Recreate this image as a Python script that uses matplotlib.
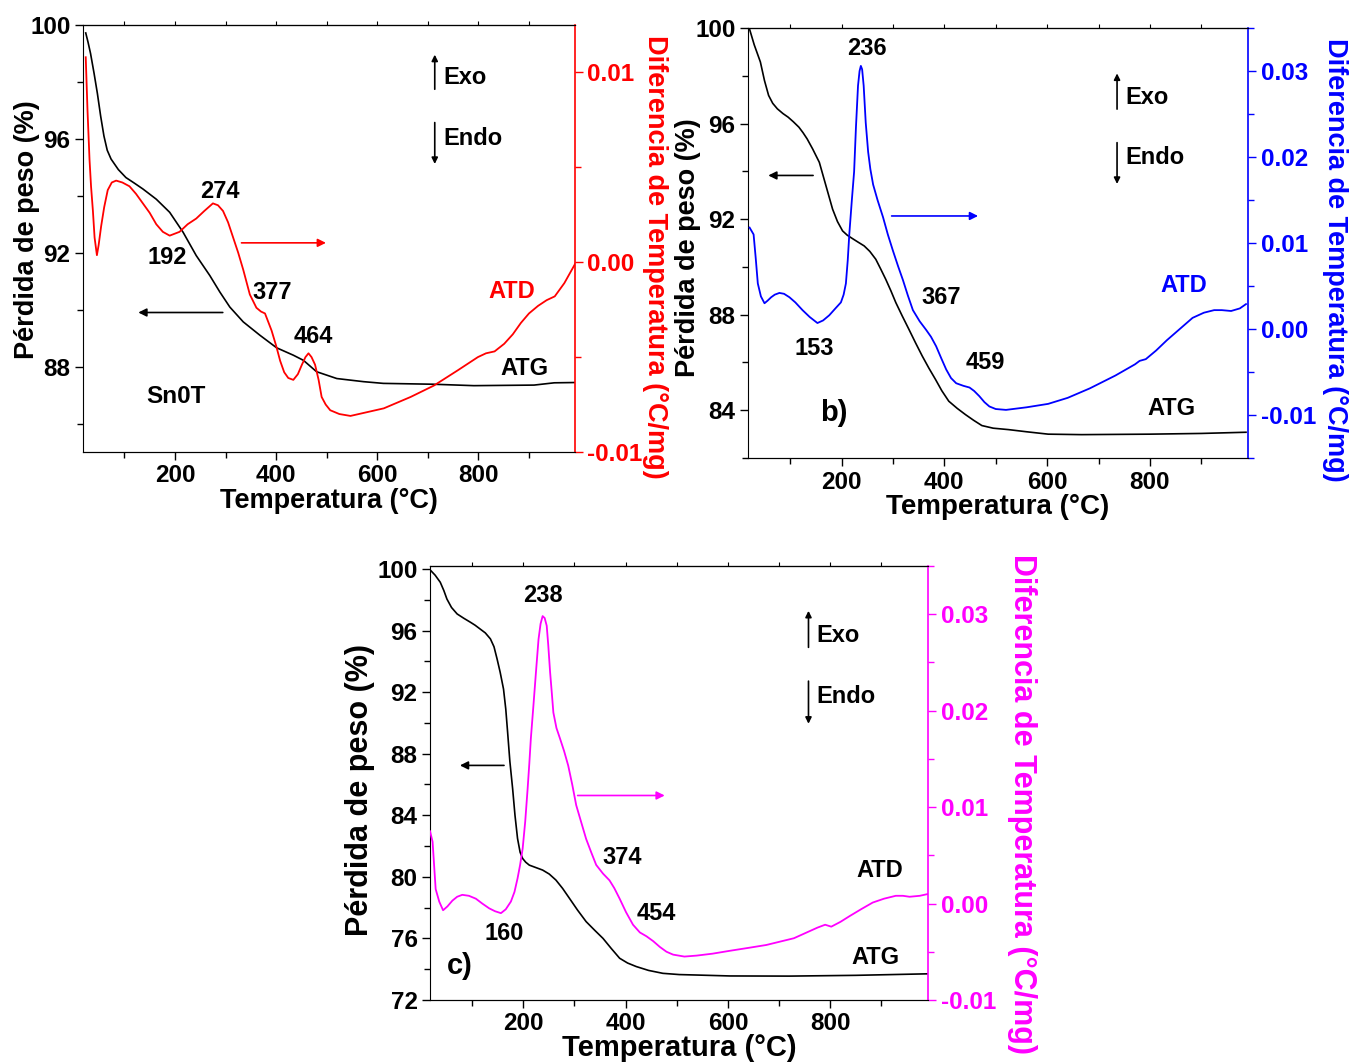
import matplotlib
matplotlib.use('Agg')
import matplotlib.pyplot as plt
from matplotlib.ticker import MultipleLocator

plt.rcParams['font.family'] = ['Liberation Sans', 'DejaVu Sans']
plt.rcParams['font.weight'] = 'bold'

### Panel a (Sn0T)
a_atg_t = [23.5, 28, 33, 40, 46.5, 53, 59.5, 66, 73.6, 88, 103, 120, 136.5, 163, 189.5, 216, 242,
           268.8, 288.7, 308.5, 335, 368, 401, 434, 454, 480, 520, 573, 612, 711, 791, 910, 950, 990]
a_atg_w = [99.72, 99.4, 99.0, 98.3, 97.6, 96.8, 96.1, 95.6, 95.29, 94.92, 94.64, 94.44, 94.24,
           93.88, 93.42, 92.72, 91.9, 91.2, 90.62, 90.09, 89.57, 89.1, 88.66, 88.4, 88.22, 87.82,
           87.58, 87.47, 87.41, 87.38, 87.33, 87.35, 87.43, 87.44]
a_atd_t = [23.5, 27, 31, 34, 37.7, 41, 45.6, 49, 54, 60, 67, 75, 83.6, 96, 110, 123, 136.5, 150,
           163, 176, 189.5, 209, 225, 242, 258, 275, 285, 295, 305, 315, 325, 335, 348, 361, 370,
           378, 391, 400, 408, 416, 424, 434, 443, 451, 458, 464, 470, 477, 484, 490, 498, 507,
           525, 547, 580, 613, 666, 712, 759, 799, 815, 832, 851, 868, 884, 900, 918, 935, 951,
           970, 991]
a_atd_v = [0.0108, 0.0080, 0.0054, 0.0040, 0.0027, 0.0013, 0.00037, 0.0009, 0.0019, 0.0029,
           0.0038, 0.0042, 0.0043, 0.0042, 0.0040, 0.0036, 0.0031, 0.0026, 0.0020, 0.0016,
           0.0014, 0.0016, 0.0020, 0.0023, 0.0027, 0.0031, 0.0030, 0.0027, 0.0021, 0.0013,
           0.0005, -0.0004, -0.0017, -0.0024, -0.0026, -0.0027, -0.0036, -0.0044, -0.0052,
           -0.0058, -0.0061, -0.0062, -0.0059, -0.0054, -0.0050, -0.0048, -0.0050, -0.0054,
           -0.0062, -0.0071, -0.0075, -0.0078, -0.0080, -0.0081, -0.0079, -0.0077, -0.0071,
           -0.0065, -0.0057, -0.0050, -0.0048, -0.0047, -0.0043, -0.0038, -0.0032, -0.0027,
           -0.0023, -0.0020, -0.0018, -0.0011, -0.0001]

### Panel b
b_atg_t = [21, 30, 42, 50, 58, 66, 75, 86, 96, 106, 117, 125, 133, 143.7, 156.7, 169.6, 182.5,
           192, 201.9, 211, 221, 232, 244, 255, 266.6, 276, 286, 296, 305.5, 318, 331, 344, 357,
           370, 382.8, 395, 408.6, 425, 441, 457, 473, 495, 525, 560, 602, 667, 800, 900, 987]
b_atg_w = [99.95, 99.3, 98.58, 97.8, 97.18, 96.85, 96.62, 96.42, 96.27, 96.08, 95.85, 95.62,
           95.36, 94.94, 94.38, 93.4, 92.42, 91.9, 91.51, 91.33, 91.19, 91.04, 90.88, 90.65,
           90.32, 89.92, 89.48, 89.0, 88.51, 87.95, 87.39, 86.82, 86.27, 85.76, 85.29, 84.82,
           84.38, 84.08, 83.82, 83.58, 83.36, 83.25, 83.19, 83.1, 83.0, 82.98, 83.0, 83.03, 83.08]
b_atd_t = [21, 28.8, 33, 37, 43, 50, 56, 63, 70, 79, 88, 98.5, 110, 124, 138, 153, 164, 176,
           188, 198.7, 204, 208.4, 212, 215, 220, 224.4, 228, 232, 235, 237.5, 240, 243, 247,
           251.7, 256, 261.4, 270, 280.7, 290, 300, 310, 319.4, 329, 338.8, 352, 364.6, 374, 384,
           394, 403.6, 413, 423, 437, 449, 458, 468, 478, 487.6, 500, 520, 560, 602, 640, 683,
           733, 771, 780, 792, 812, 833, 858, 883, 905, 925, 940, 958, 975, 987]
b_atd_v = [0.0118, 0.0110, 0.0082, 0.0053, 0.0038, 0.0030, 0.0033, 0.0037, 0.0040, 0.0042,
           0.0041, 0.0037, 0.0031, 0.0022, 0.0014, 0.0007, 0.0010, 0.0016, 0.0024, 0.0031,
           0.0040, 0.0053, 0.0080, 0.0110, 0.0150, 0.0183, 0.0235, 0.0283, 0.0300, 0.0306,
           0.0302, 0.0283, 0.0240, 0.0206, 0.0186, 0.0168, 0.0150, 0.0130, 0.0110, 0.0091,
           0.0073, 0.0057, 0.0039, 0.0022, 0.0009, -0.0001, -0.0009, -0.0020, -0.0034, -0.0047,
           -0.0057, -0.0063, -0.0066, -0.0068, -0.0072, -0.0078, -0.0085, -0.0090, -0.0093,
           -0.0094, -0.0091, -0.0087, -0.0080, -0.0069, -0.0054, -0.0041, -0.0037, -0.0035,
           -0.0025, -0.0013, 0.0000, 0.0013, 0.0019, 0.0022, 0.0022, 0.0021, 0.0024, 0.0029]

### Panel c
c_atg_t = [18, 28, 38, 45, 51, 60, 71, 84, 97, 106, 116, 126, 136, 143, 149, 155, 161.6, 166,
           169.6, 174, 179.4, 184, 189, 194, 199, 205, 212, 225, 238, 251, 264, 277, 290.5, 306,
           323, 340, 356, 372, 388.5, 404, 421, 445, 473, 505, 539, 604, 720, 850, 992]
c_atg_w = [99.95, 99.6, 99.14, 98.6, 98.05, 97.5, 97.08, 96.8, 96.54, 96.35, 96.1, 95.85, 95.46,
           94.95, 94.16, 93.3, 92.2, 90.9, 89.4, 87.5, 85.73, 84.0, 82.49, 81.6, 81.19, 80.95,
           80.76, 80.6, 80.44, 80.18, 79.79, 79.25, 78.6, 77.85, 77.09, 76.52, 76.0, 75.35, 74.71,
           74.4, 74.17, 73.92, 73.73, 73.65, 73.62, 73.56, 73.55, 73.6, 73.7]
c_atd_t = [18, 23, 29, 36, 43.5, 52, 61.7, 71, 81, 94, 107.6, 120, 133.6, 145, 156.6, 166, 176,
           183, 189, 194, 199, 204, 208.7, 212, 215, 220, 225, 230, 234, 238, 242, 246, 249,
           252.6, 256, 259, 265, 272, 280, 288, 296, 303.6, 313, 323, 333, 342.7, 356, 368.7,
           378, 388.5, 401, 414.6, 428, 441, 454, 467, 480, 493, 515, 539, 570, 604, 640, 675,
           729, 775, 790, 802, 820, 838, 860, 883, 905, 928, 942, 955, 975, 992]
c_atd_v = [0.0075, 0.0064, 0.0015, 0.0002, -0.0007, -0.0003, 0.0003, 0.0007, 0.0009, 0.0008,
           0.0005, 0.0000, -0.0005, -0.0008, -0.0010, -0.0006, 0.0002, 0.0012, 0.0026, 0.0040,
           0.0057, 0.0085, 0.0119, 0.0145, 0.0171, 0.0205, 0.0240, 0.0274, 0.0290, 0.0298,
           0.0296, 0.0288, 0.0268, 0.0240, 0.0218, 0.0198, 0.0182, 0.0171, 0.0158, 0.0143,
           0.0123, 0.0102, 0.0085, 0.0067, 0.0053, 0.0040, 0.0031, 0.0024, 0.0016, 0.0005,
           -0.0009, -0.0022, -0.0030, -0.0034, -0.0039, -0.0045, -0.0050, -0.0053, -0.0055,
           -0.0054, -0.0052, -0.0049, -0.0046, -0.0043, -0.0036, -0.0025, -0.0022, -0.0024,
           -0.0019, -0.0013, -0.0006, 0.0001, 0.0005, 0.0008, 0.0008, 0.0007, 0.0008, 0.0010]

### peak labels (text, temperature, weight value on left axis)
a_labels = [('274', 289, 94.15), ('192', 185, 91.82), ('377', 393, 90.59), ('464', 473, 89.06)]
b_labels = [('236', 250, 99.13), ('153', 146, 86.6), ('367', 393, 88.74), ('459', 479, 85.98)]
c_labels = [('238', 238, 98.27), ('160', 162, 76.3), ('374', 393, 81.24), ('454', 460, 77.6)]

TICK = 17.5
NOTE = 17


def make_panel(rect, ylim, ylim2, yticks, y2ticks, color, t1, w1, t2, v2, lab_pos, sizes):
    ax = fig.add_axes(rect)
    ax2 = ax.twinx()
    ax.plot(t1, w1, color='black', lw=1.2)
    ax2.plot(t2, v2, color=color, lw=1.3)
    ax.set_xlim(18, 991)
    ax.set_ylim(*ylim)
    ax2.set_ylim(*ylim2)
    ax.set_xticks([200, 400, 600, 800])
    ax.xaxis.set_minor_locator(MultipleLocator(100))
    ax.set_yticks(yticks)
    ax.yaxis.set_minor_locator(MultipleLocator(2))
    ax2.set_yticks(y2ticks)
    ax2.set_yticklabels(['%.2f' % v for v in y2ticks])
    ax2.yaxis.set_minor_locator(MultipleLocator(0.005))
    ax.tick_params(which='major', length=6, width=1, labelsize=TICK, pad=3)
    ax.tick_params(which='minor', length=4, width=1)
    ax2.tick_params(which='major', length=6, width=1, labelsize=TICK, colors=color, pad=3)
    ax2.tick_params(which='minor', length=4, width=1, colors=color)
    ax.spines['right'].set_visible(False)
    ax2.spines['left'].set_visible(False)
    ax2.spines['right'].set_color(color)
    ax2.spines['right'].set_linewidth(1.2)
    top = ax.secondary_xaxis('top')
    top.set_xticks(range(100, 1000, 100))
    top.tick_params(length=3, labeltop=False)
    xl, yl, yr = lab_pos
    sx, sl, sr = sizes
    ax.set_xlabel('Temperatura (°C)', fontsize=sx, fontweight='bold', va='center')
    ax.xaxis.set_label_coords(0.5, xl)
    ax.set_ylabel('Pérdida de peso (%)', fontsize=sl, fontweight='bold', va='center', ha='center')
    ax.yaxis.set_label_coords(yl[0], yl[1])
    ax2.set_ylabel('Diferencia de Temperatura (°C/mg)', fontsize=sr, fontweight='bold',
                   color=color, rotation=270, va='center', ha='center')
    ax2.yaxis.set_label_coords(yr[0], yr[1])
    for lab in ax.get_xticklabels() + ax.get_yticklabels() + ax2.get_yticklabels():
        lab.set_fontweight('bold')
    return ax, ax2


def exo_endo(ax, x, up, down, tx, ty_exo, ty_endo):
    ap = dict(arrowstyle='-|>', color='black', lw=1.2, mutation_scale=9)
    ax.annotate('', xy=(x, up[1]), xytext=(x, up[0]), xycoords='axes fraction', arrowprops=ap)
    ax.annotate('', xy=(x, down[1]), xytext=(x, down[0]), xycoords='axes fraction', arrowprops=ap)
    ax.text(tx, ty_exo, 'Exo', transform=ax.transAxes, fontsize=NOTE, fontweight='bold', va='center')
    ax.text(tx, ty_endo, 'Endo', transform=ax.transAxes, fontsize=NOTE, fontweight='bold', va='center')


def side_arrow(ax, x0, x1, y, color):
    ax.annotate('', xy=(x1, y), xytext=(x0, y),
                arrowprops=dict(arrowstyle='-|>', color=color, lw=1.2, mutation_scale=12))


def note(ax, t, w, s, color='black', size=NOTE):
    ax.text(t, w, s, color=color, fontsize=size, fontweight='bold', ha='center', va='center')


fig = plt.figure(figsize=(13.51, 10.63), dpi=100)

# ---- a ----
ax, ax2 = make_panel([0.0614, 0.5748, 0.3642, 0.4017], (85, 100), (-0.01, 0.0125),
                     [88, 92, 96, 100], [-0.01, 0.0, 0.01], 'red',
                     a_atg_t, a_atg_w, a_atd_t, a_atd_v,
                     (-0.115, (-0.114, 0.52), (1.163, 0.457)), (19.5, 19.5, 19.5))
for s, t, w in a_labels:
    note(ax, t, w, s)
note(ax, 866, 90.65, 'ATD', 'red')
note(ax, 892, 87.94, 'ATG')
note(ax, 202, 86.94, 'Sn0T', size=17.5)
side_arrow(ax, 300, 122, 89.9, 'black')
side_arrow(ax2, 326, 504, 0.00102, 'red')
exo_endo(ax, 0.715, (0.843, 0.937), (0.778, 0.668), 0.732, 0.876, 0.733)

# ---- b ----
ax, ax2 = make_panel([0.5537, 0.5691, 0.3701, 0.4045], (82, 100), (-0.015, 0.035),
                     [84, 88, 92, 96, 100], [-0.01, 0.0, 0.01, 0.02, 0.03], 'blue',
                     b_atg_t, b_atg_w, b_atd_t, b_atd_v,
                     (-0.114, (-0.12, 0.49), (1.174, 0.46)), (20, 19.5, 19.5))
for s, t, w in b_labels:
    note(ax, t, w, s)
note(ax, 865, 89.21, 'ATD', 'blue')
note(ax, 842, 84.06, 'ATG')
note(ax, 185, 83.9, 'b)', size=21)
side_arrow(ax, 150, 52, 93.83, 'black')
side_arrow(ax2, 292, 471, 0.01315, 'blue')
exo_endo(ax, 0.738, (0.805, 0.901), (0.740, 0.631), 0.755, 0.838, 0.698)

# ---- c ----
ax, ax2 = make_panel([0.3183, 0.0593, 0.3686, 0.4083], (72, 100.2), (-0.01, 0.035),
                     [72, 76, 80, 84, 88, 92, 96, 100], [-0.01, 0.0, 0.01, 0.02, 0.03], 'magenta',
                     c_atg_t, c_atg_w, c_atd_t, c_atd_v,
                     (-0.11, (-0.141, 0.484), (1.189, 0.452)), (21, 22, 22))
for s, t, w in c_labels:
    note(ax, t, w, s)
note(ax, 897, 80.44, 'ATD')
note(ax, 888, 74.77, 'ATG')
note(ax, 76, 74.2, 'c)', size=21)
side_arrow(ax, 168, 71, 87.24, 'black')
side_arrow(ax2, 301, 482, 0.0112, 'magenta')
exo_endo(ax, 0.760, (0.806, 0.903), (0.741, 0.630), 0.775, 0.839, 0.699)

plt.savefig('out.png', dpi=100)
